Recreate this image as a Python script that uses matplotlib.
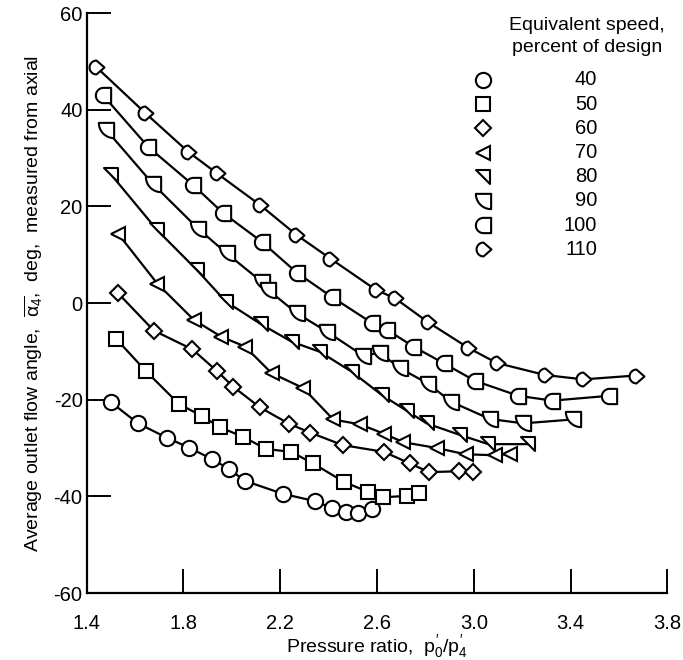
import numpy as np
import matplotlib
matplotlib.use("Agg")
import matplotlib.pyplot as plt
from matplotlib.path import Path

plt.rcParams['font.family'] = ['Liberation Sans', 'DejaVu Sans']
plt.rcParams['mathtext.fontset'] = 'custom'
plt.rcParams['mathtext.rm'] = 'Liberation Sans'
plt.rcParams['mathtext.it'] = 'Liberation Sans'
plt.rcParams['axes.unicode_minus'] = False

# Data: pressure ratio vs outlet flow angle (deg)
speeds = ['40', '50', '60', '70', '80', '90', '100', '110']

pr_40 = [1.499, 1.612, 1.732, 1.822, 1.918, 1.990, 2.054, 2.212, 2.345, 2.412, 2.470, 2.523, 2.580]
ang_40 = [-20.5, -24.9, -27.9, -29.9, -32.3, -34.4, -36.8, -39.5, -41.0, -42.4, -43.2, -43.5, -42.6]

pr_50 = [1.523, 1.643, 1.781, 1.877, 1.950, 2.047, 2.141, 2.245, 2.336, 2.463, 2.564, 2.626, 2.723, 2.774]
ang_50 = [-7.5, -14.0, -20.9, -23.4, -25.7, -27.7, -30.2, -30.8, -33.2, -37.0, -39.1, -40.2, -39.9, -39.4]

pr_60 = [1.530, 1.677, 1.837, 1.939, 2.005, 2.116, 2.237, 2.323, 2.458, 2.629, 2.736, 2.816, 2.940, 2.998]
ang_60 = [2.0, -5.7, -9.6, -14.1, -17.3, -21.6, -25.0, -26.8, -29.4, -30.8, -33.2, -35.0, -34.8, -34.9]

pr_70 = [1.530, 1.692, 1.843, 1.957, 2.054, 2.164, 2.295, 2.419, 2.529, 2.627, 2.709, 2.847, 2.966, 3.088, 3.150]
ang_70 = [14.3, 4.0, -3.5, -7.0, -9.0, -14.5, -17.6, -24.1, -25.1, -27.0, -28.8, -30.0, -31.3, -31.5, -31.2]

pr_80 = [1.502, 1.691, 1.856, 1.975, 2.121, 2.247, 2.364, 2.495, 2.619, 2.723, 2.805, 2.943, 3.060, 3.226]
ang_80 = [26.5, 15.1, 6.8, 0.3, -4.4, -8.0, -10.1, -14.2, -19.0, -22.3, -24.9, -27.3, -29.2, -29.2]

pr_90 = [1.481, 1.674, 1.860, 1.978, 2.123, 2.150, 2.268, 2.392, 2.543, 2.612, 2.695, 2.812, 2.905, 3.067, 3.205, 3.409]
ang_90 = [35.8, 24.6, 15.4, 10.3, 4.4, 2.7, -2.1, -5.9, -10.9, -10.3, -13.5, -16.7, -20.4, -24.0, -24.9, -24.1]

pr_100 = [1.467, 1.654, 1.840, 1.964, 2.123, 2.268, 2.412, 2.578, 2.643, 2.750, 2.877, 3.005, 3.184, 3.325, 3.559]
ang_100 = [43.0, 32.3, 24.4, 18.6, 12.7, 6.3, 1.3, -4.1, -5.6, -9.0, -12.5, -16.1, -19.2, -20.2, -19.2]

pr_110 = [1.440, 1.640, 1.819, 1.939, 2.116, 2.267, 2.407, 2.596, 2.674, 2.812, 2.978, 3.095, 3.295, 3.453, 3.671]
ang_110 = [48.8, 39.4, 31.3, 26.8, 20.3, 14.1, 9.2, 2.7, 1.0, -4.0, -9.3, -12.4, -14.9, -15.8, -15.0]

pr_all = [pr_40, pr_50, pr_60, pr_70, pr_80, pr_90, pr_100, pr_110]
ang_all = [ang_40, ang_50, ang_60, ang_70, ang_80, ang_90, ang_100, ang_110]

# custom open symbols
t = np.linspace(np.pi, 1.5 * np.pi, 20)
quarter = Path(np.vstack([[(1, 1), (-1, 1)],
                          np.c_[1 + 2 * np.cos(t), 1 + 2 * np.sin(t)],
                          [(1, 1)]]), closed=True)
t2 = np.linspace(0.5 * np.pi, 1.5 * np.pi, 20)
half_d = Path(np.vstack([np.c_[np.cos(t2), np.sin(t2)],
                         [(1, -1), (1, 1), (0, 1)]]), closed=True)
tear = Path(np.vstack([np.c_[np.cos(t2), np.sin(t2)],
                       [(1.15, 0), (0, 1)]]), closed=True)
right_tri = Path([(-1, 1), (1, 1), (1, -1), (-1, 1)], closed=True)

markers = ['o', 's', 'D', '<', right_tri, quarter, half_d, tear]
msizes = [11, 10.5, 8.5, 10.5, 10.5, 11, 11, 11.5]

fig = plt.figure(figsize=(6.83, 6.6), dpi=100)
ax = fig.add_axes([0.127, 0.1015, 0.85, 0.8788])

for x, y, m, ms in zip(pr_all, ang_all, markers, msizes):
    ax.plot(x, y, color='black', lw=1.6, marker=m, ms=ms,
            mfc='white', mec='black', mew=1.5)

ax.set_xlim(1.4, 3.8)
ax.set_ylim(-60, 60)
ax.set_xticks([1.4, 1.8, 2.2, 2.6, 3.0, 3.4, 3.8])
ax.set_xticklabels(['1.4', '1.8', '2.2', '2.6', '3.0', '3.4', '3.8'])
ax.set_yticks([-60, -40, -20, 0, 20, 40, 60])
ax.spines['top'].set_visible(False)
ax.spines['right'].set_visible(False)
ax.spines['left'].set_linewidth(1.6)
ax.spines['bottom'].set_linewidth(1.6)
ax.tick_params(direction='in', length=17, width=1.4, labelsize=14.5)
ax.tick_params(axis='x', pad=15)
ax.tick_params(axis='y', pad=3)

ax.set_xlabel("Pressure ratio,  $p_0'/p_4'$", fontsize=14, labelpad=0)
ax.set_ylabel(r"Average outlet flow angle,  $\overline{\alpha_4}$,  deg,  measured from axial",
              fontsize=14, labelpad=6)

# key
ax.text(0.862, 0.979, 'Equivalent speed,', transform=ax.transAxes,
        ha='center', va='center', fontsize=14)
ax.text(0.862, 0.94, 'percent of design', transform=ax.transAxes,
        ha='center', va='center', fontsize=14)
for i, (lab, m, ms) in enumerate(zip(speeds, markers, msizes)):
    yy = 0.8845 - i * 0.0417
    ax.plot([0.683], [yy], transform=ax.transAxes, ls='none', marker=m, ms=ms,
            mfc='white', mec='black', mew=1.5, clip_on=False)
    ax.text(0.879, yy, lab, transform=ax.transAxes, ha='right', va='center',
            fontsize=14.5)

fig.savefig('out.png', dpi=100)
